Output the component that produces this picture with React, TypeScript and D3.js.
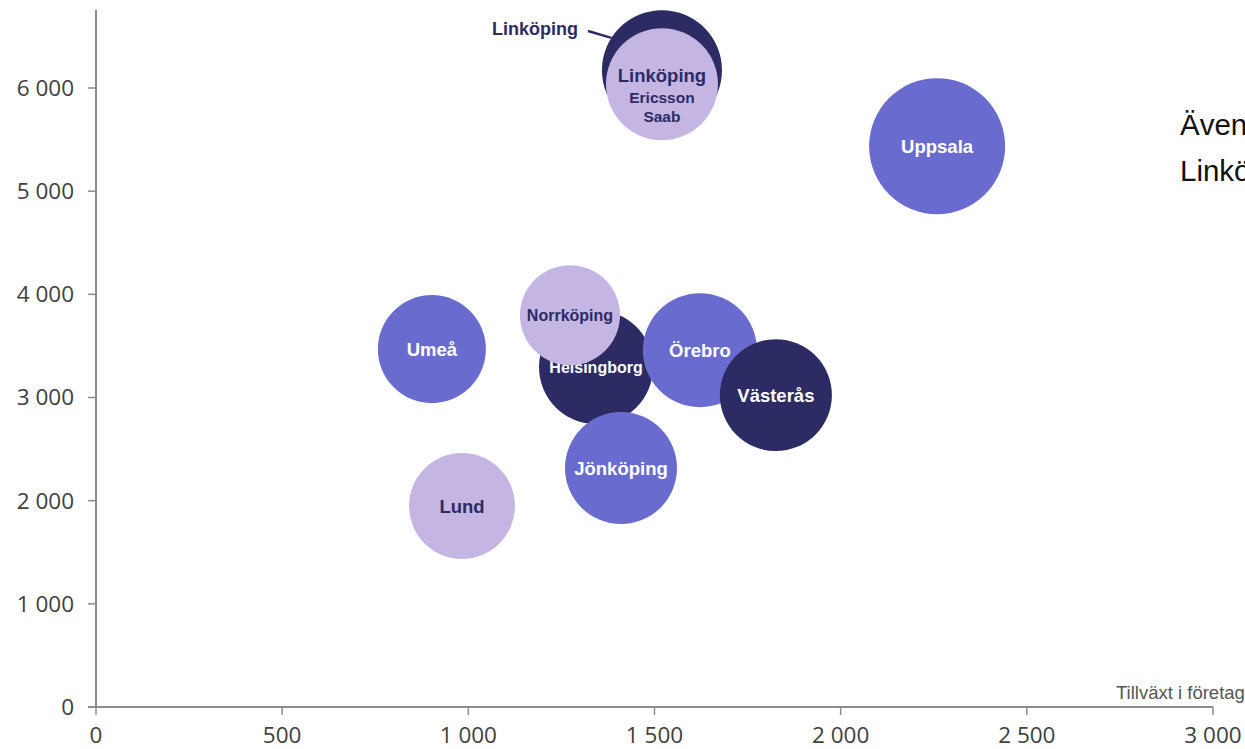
import { useEffect, useRef } from "react";
import * as d3 from "d3";

const WIDTH = 1245;
const HEIGHT = 749;

// bubble data (x = growth, y = value, size = bubble size)
const names = ["Umeå", "Lund", "Helsingborg", "Norrköping", "Örebro", "Västerås", "Jönköping", "Uppsala", "Linköping", "Linköping Ericsson Saab"];
const xValues = [902, 983, 1343, 1273, 1622, 1826, 1410, 2259, 1520, 1520];
const yValues = [3469, 1948, 3295, 3798, 3459, 3023, 2316, 5436, 6172, 6037];
const sizes = [63.1, 60.7, 70.3, 54.1, 70.3, 67.8, 67.8, 100, 77.9, 67.8];
const groups = ["mid", "light", "dark", "light", "mid", "dark", "mid", "mid", "dark", "light"];

const xTicks = [0, 500, 1000, 1500, 2000, 2500, 3000];
const yTicks = [0, 1000, 2000, 3000, 4000, 5000, 6000];

const palette: Record<string, string> = {
  dark: "#2d2b63",
  mid: "#6a6bcf",
  light: "#c4b5e3",
};

const fmt = (v: number) => d3.format(",")(v).replace(/,/g, " ");

export default function App() {
  const svgRef = useRef<SVGSVGElement | null>(null);

  useEffect(() => {
    const svg = d3.select(svgRef.current);
    svg.selectAll("*").remove();

    const x = d3.scaleLinear().domain([0, 3000]).range([96, 1213]);
    const y = d3.scaleLinear().domain([0, 6000]).range([707, 88]);
    const r = d3.scaleSqrt().domain([0, 100]).range([0, 68]);

    const axisColor = "#8c8c8c";
    const tickFont = "'Open Sans', 'Noto Sans', sans-serif";

    // y axis
    const gy = svg.append("g").attr("transform", `translate(${x(0)},0)`);
    gy.append("line")
      .attr("y1", 10)
      .attr("y2", y(0))
      .attr("stroke", axisColor)
      .attr("stroke-width", 2);
    gy.selectAll("g.tick")
      .data(yTicks)
      .join("g")
      .attr("class", "tick")
      .attr("transform", (d) => `translate(0,${y(d)})`)
      .call((g) =>
        g.append("line").attr("x1", -8).attr("x2", 0).attr("stroke", axisColor).attr("stroke-width", 1.5)
      )
      .call((g) =>
        g
          .append("text")
          .attr("x", -22)
          .attr("dy", "0.35em")
          .attr("text-anchor", "end")
          .attr("font-family", tickFont)
          .attr("font-size", 22.5)
          .attr("fill", "#404040")
          .text((d) => fmt(d))
      );

    // x axis
    const gx = svg.append("g").attr("transform", `translate(0,${y(0)})`);
    gx.append("line")
      .attr("x1", x(0) - 8)
      .attr("x2", x(3000))
      .attr("stroke", axisColor)
      .attr("stroke-width", 2);
    gx.selectAll("g.tick")
      .data(xTicks)
      .join("g")
      .attr("class", "tick")
      .attr("transform", (d) => `translate(${x(d)},0)`)
      .call((g) =>
        g.append("line").attr("y1", 0).attr("y2", 8).attr("stroke", axisColor).attr("stroke-width", 1.5)
      )
      .call((g) =>
        g
          .append("text")
          .attr("y", 36)
          .attr("text-anchor", "middle")
          .attr("font-family", tickFont)
          .attr("font-size", 22.5)
          .attr("fill", "#404040")
          .text((d) => fmt(d))
      );

    svg
      .append("text")
      .attr("x", 1116)
      .attr("y", 699)
      .attr("font-family", "'Liberation Sans', Arial, sans-serif")
      .attr("font-size", 18.5)
      .attr("fill", "#555")
      .text("Tillväxt i företag");

    // bubbles
    const labelFont = "'Liberation Sans', Arial, sans-serif";
    names.forEach((name, i) => {
      const cx = x(xValues[i]);
      const cy = y(yValues[i]);
      const g = svg.append("g");
      g.append("circle")
        .attr("cx", cx)
        .attr("cy", cy)
        .attr("r", r(sizes[i]))
        .attr("fill", palette[groups[i]]);
      const color = groups[i] === "light" ? palette.dark : "#ffffff";
      if (name === "Linköping") return; // labelled outside
      if (name === "Linköping Ericsson Saab") {
        const lines: [string, number, number][] = [
          ["Linköping", -9, 18.5],
          ["Ericsson", 13, 15.5],
          ["Saab", 32, 15.5],
        ];
        lines.forEach(([t, dy, fs]) =>
          g
            .append("text")
            .attr("x", cx)
            .attr("y", cy + dy)
            .attr("dy", "0.35em")
            .attr("text-anchor", "middle")
            .attr("font-family", labelFont)
            .attr("font-weight", "bold")
            .attr("font-size", fs)
            .attr("fill", color)
            .text(t)
        );
        return;
      }
      const fs = name === "Helsingborg" || name === "Norrköping" ? 16 : 18.5;
      g.append("text")
        .attr("x", cx)
        .attr("y", cy)
        .attr("dy", "0.35em")
        .attr("text-anchor", "middle")
        .attr("font-family", labelFont)
        .attr("font-weight", "bold")
        .attr("font-size", fs)
        .attr("fill", color)
        .text(name);
    });

    // outside label for Linköping with leader line
    const li = names.indexOf("Linköping");
    const lx = x(xValues[li]);
    const ly = y(yValues[li]);
    const lr = r(sizes[li]);
    const ang = Math.PI + 0.57;
    svg
      .append("line")
      .attr("x1", 588)
      .attr("y1", 31)
      .attr("x2", lx + lr * Math.cos(ang))
      .attr("y2", ly + lr * Math.sin(ang))
      .attr("stroke", palette.dark)
      .attr("stroke-width", 2.5);
    svg
      .append("text")
      .attr("x", 578)
      .attr("y", 29)
      .attr("dy", "0.35em")
      .attr("text-anchor", "end")
      .attr("font-family", labelFont)
      .attr("font-weight", "bold")
      .attr("font-size", 18)
      .attr("fill", palette.dark)
      .text("Linköping");

    // side note (clipped by the frame)
    const note = svg
      .append("text")
      .attr("font-family", "'Liberation Sans', Arial, sans-serif")
      .attr("font-size", 29.5)
      .attr("fill", "#111");
    note.append("tspan").attr("x", 1180).attr("y", 135).text("Även");
    note.append("tspan").attr("x", 1180).attr("y", 181).text("Linköping");
  }, []);

  return (
    <svg
      ref={svgRef}
      width={WIDTH}
      height={HEIGHT}
      style={{ position: "absolute", top: 0, left: 0, background: "#fff" }}
    />
  );
}
